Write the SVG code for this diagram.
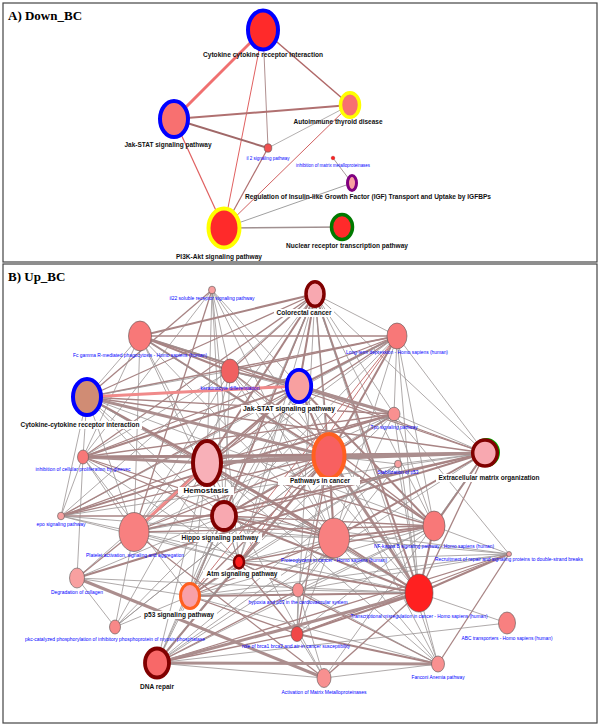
<svg xmlns="http://www.w3.org/2000/svg" width="600" height="726" viewBox="0 0 600 726">
<style>
.frame{fill:none;stroke:#444;stroke-width:1.2}
.title{font-family:"Liberation Serif",serif;font-weight:bold;font-size:13px;fill:#000}
.bd{font-family:"Liberation Sans",Arial,sans-serif;font-weight:bold;font-size:6.6px;fill:#111;text-anchor:middle}
.bl{font-family:"Liberation Sans",Arial,sans-serif;font-size:5.4px;fill:#0000ff;text-anchor:middle}
.pl{stroke:#555;stroke-width:0.6}
.lb{fill:#fff}
.g{stroke:#9a9494;stroke-width:0.8}
.m{stroke:#a88484;stroke-width:1.3}
.M{stroke:#a88484;stroke-width:2}
.T{stroke:#ab8e8e;stroke-width:3}
.P{stroke:#f08a8a;stroke-width:3}
.r{stroke:#c06868;stroke-width:0.9}
</style>
<rect width="600" height="726" fill="#fff"/>
<rect class="frame" x="3" y="3" width="594" height="259"/>
<rect class="frame" x="3" y="264" width="594" height="459"/>
<text class="title" x="8" y="20">A) Down_BC</text>
<text class="title" x="8" y="281">B) Up_BC</text>

<g id="connectors-A" fill="none">
<line x1="263" y1="30" x2="174" y2="119" stroke="#f07070" stroke-width="3"/>
<line x1="263" y1="30" x2="224" y2="228" stroke="#e06060" stroke-width="1"/>
<line x1="263" y1="30" x2="268" y2="148" stroke="#b09090" stroke-width="1"/>
<line x1="263" y1="30" x2="350" y2="105" stroke="#b06868" stroke-width="1.5"/>
<line x1="174" y1="119" x2="350" y2="105" stroke="#b07070" stroke-width="2"/>
<line x1="174" y1="119" x2="268" y2="148" stroke="#a06868" stroke-width="2"/>
<line x1="174" y1="119" x2="224" y2="228" stroke="#e06060" stroke-width="1.2"/>
<line x1="350" y1="105" x2="268" y2="148" stroke="#a09a9a" stroke-width="0.8"/>
<line x1="350" y1="105" x2="224" y2="228" stroke="#d06060" stroke-width="1"/>
<line x1="268" y1="148" x2="224" y2="228" stroke="#b07070" stroke-width="1.2"/>
<line x1="333" y1="158" x2="352" y2="183" stroke="#908080" stroke-width="0.8"/>
<line x1="352" y1="183" x2="224" y2="228" stroke="#a0a0a0" stroke-width="1"/>
<line x1="224" y1="228" x2="342" y2="227" stroke="#a09090" stroke-width="1.5"/>
</g>

<g id="A-cytokine"><ellipse cx="263" cy="30" rx="15" ry="19.5" fill="#ff2a2a" stroke="#0000ff" stroke-width="4"/><text class="bd" x="263" y="57" textLength="120" lengthAdjust="spacingAndGlyphs">Cytokine cytokine receptor interaction</text></g>
<g id="A-jakstat"><ellipse cx="174" cy="119" rx="14" ry="18" fill="#f87070" stroke="#0000ff" stroke-width="4"/><text class="bd" x="168" y="147" textLength="87" lengthAdjust="spacingAndGlyphs">Jak-STAT signaling pathway</text></g>
<g id="A-autoimmune"><ellipse cx="350" cy="105" rx="9.5" ry="12.3" fill="#f87070" stroke="#ffff00" stroke-width="3.5"/><text class="bd" x="338" y="124" textLength="89" lengthAdjust="spacingAndGlyphs">Autoimmune thyroid disease</text></g>
<g id="A-il2"><ellipse class="pl" cx="268" cy="148" rx="3.8" ry="4.2" fill="#f05050"/><text class="bl" x="268" y="160" textLength="43" lengthAdjust="spacingAndGlyphs">il 2 signaling pathway</text></g>
<g id="A-inhibition"><circle cx="333" cy="158" r="1.8" fill="#ff2020" stroke="#a00" stroke-width="0.4"/><text class="bl" x="333" y="167" textLength="74" lengthAdjust="spacingAndGlyphs">inhibition of matrix metalloproteinases</text></g>
<g id="A-regulation"><ellipse cx="352" cy="183" rx="4.5" ry="7.5" fill="#f8a0a0" stroke="#800080" stroke-width="3"/><text class="bd" x="368" y="199" textLength="246" lengthAdjust="spacingAndGlyphs">Regulation of Insulin-like Growth Factor (IGF) Transport and Uptake by IGFBPs</text></g>
<g id="A-pi3k"><ellipse cx="224" cy="228" rx="15.5" ry="19.5" fill="#ff2a2a" stroke="#ffff00" stroke-width="4"/><text class="bd" x="219" y="259" textLength="86" lengthAdjust="spacingAndGlyphs">PI3K-Akt signaling pathway</text></g>
<g id="A-nuclear"><ellipse cx="342" cy="227" rx="10.5" ry="12.5" fill="#ff2a2a" stroke="#007a00" stroke-width="3.5"/><text class="bd" x="347" y="248" textLength="122" lengthAdjust="spacingAndGlyphs">Nuclear receptor transcription pathway</text></g>

<g id="connectors-B" fill="none">
<!-- il22 212,290 -->
<line class="m" x1="212" y1="290" x2="87" y2="397"/>
<line class="g" x1="212" y1="290" x2="230" y2="371"/>
<line class="g" x1="212" y1="290" x2="207" y2="463"/>
<line class="g" x1="212" y1="290" x2="224" y2="516"/>
<line class="m" x1="212" y1="290" x2="134" y2="532"/>
<line class="g" x1="212" y1="290" x2="329" y2="456"/>
<line class="g" x1="212" y1="290" x2="334" y2="538"/>
<line class="g" x1="212" y1="290" x2="239" y2="562"/>
<line class="g" x1="212" y1="290" x2="299" y2="386"/>
<line class="g" x1="212" y1="290" x2="83" y2="457"/>
<!-- colo 315,294 -->
<line class="M" x1="315" y1="294" x2="140" y2="336"/>
<line class="g" x1="315" y1="294" x2="397" y2="336"/>
<line class="m" x1="315" y1="294" x2="230" y2="371"/>
<line class="M" x1="315" y1="294" x2="299" y2="386"/>
<line class="m" x1="315" y1="294" x2="87" y2="397"/>
<line class="M" x1="315" y1="294" x2="207" y2="463"/>
<line class="m" x1="315" y1="294" x2="329" y2="456"/>
<line class="g" x1="315" y1="294" x2="394" y2="414"/>
<line class="m" x1="315" y1="294" x2="224" y2="516"/>
<line class="g" x1="315" y1="294" x2="134" y2="532"/>
<line class="g" x1="315" y1="294" x2="334" y2="538"/>
<line class="M" x1="315" y1="294" x2="419" y2="593"/>
<line class="g" x1="315" y1="294" x2="434" y2="526"/>
<line class="g" x1="315" y1="294" x2="239" y2="562"/>
<line class="m" x1="315" y1="294" x2="190" y2="596"/>
<line class="g" x1="315" y1="294" x2="157" y2="663"/>
<line class="g" x1="315" y1="294" x2="297" y2="634"/>
<line class="g" x1="315" y1="294" x2="485" y2="453"/>
<line class="m" x1="315" y1="294" x2="83" y2="457"/>
<line class="g" x1="315" y1="294" x2="61" y2="516"/>
<line class="g" x1="315" y1="294" x2="438" y2="664"/>
<!-- fcg 140,336 -->
<line class="m" x1="140" y1="336" x2="397" y2="336"/>
<line class="M" x1="140" y1="336" x2="230" y2="371"/>
<line class="M" x1="140" y1="336" x2="299" y2="386"/>
<line class="M" x1="140" y1="336" x2="329" y2="456"/>
<line class="g" x1="140" y1="336" x2="207" y2="463"/>
<line class="g" x1="140" y1="336" x2="134" y2="532"/>
<line class="g" x1="140" y1="336" x2="87" y2="397"/>
<line class="g" x1="140" y1="336" x2="83" y2="457"/>
<line class="g" x1="140" y1="336" x2="394" y2="414"/>
<line class="g" x1="140" y1="336" x2="334" y2="538"/>
<line class="g" x1="140" y1="336" x2="434" y2="526"/>
<line class="g" x1="140" y1="336" x2="224" y2="516"/>
<line class="m" x1="140" y1="336" x2="485" y2="453"/>
<!-- ltd 397,336 -->
<line class="m" x1="397" y1="336" x2="230" y2="371"/>
<line class="M" x1="397" y1="336" x2="299" y2="386"/>
<line class="M" x1="397" y1="336" x2="329" y2="456"/>
<line class="m" x1="397" y1="336" x2="207" y2="463"/>
<line class="g" x1="397" y1="336" x2="224" y2="516"/>
<line class="g" x1="397" y1="336" x2="134" y2="532"/>
<line class="g" x1="397" y1="336" x2="334" y2="538"/>
<line class="m" x1="397" y1="336" x2="83" y2="457"/>
<line class="g" x1="397" y1="336" x2="394" y2="414"/>
<line class="g" x1="397" y1="336" x2="434" y2="526"/>
<line class="g" x1="397" y1="336" x2="419" y2="593"/>
<line class="g" x1="397" y1="336" x2="485" y2="453"/>
<line class="g" x1="397" y1="336" x2="61" y2="516"/>
<line class="m" x1="397" y1="336" x2="87" y2="397"/>
<line class="r" x1="397" y1="336" x2="239" y2="562"/>
<line class="r" x1="397" y1="336" x2="190" y2="596"/>
<!-- kera 230,371 -->
<line class="M" x1="230" y1="371" x2="299" y2="386"/>
<line class="g" x1="230" y1="371" x2="87" y2="397"/>
<line class="g" x1="230" y1="371" x2="207" y2="463"/>
<line class="g" x1="230" y1="371" x2="329" y2="456"/>
<line class="g" x1="230" y1="371" x2="134" y2="532"/>
<line class="g" x1="230" y1="371" x2="224" y2="516"/>
<line class="g" x1="230" y1="371" x2="83" y2="457"/>
<line class="g" x1="230" y1="371" x2="334" y2="538"/>
<line class="g" x1="230" y1="371" x2="394" y2="414"/>
<line class="m" x1="230" y1="371" x2="434" y2="526"/>
<line class="g" x1="230" y1="371" x2="419" y2="593"/>
<!-- jakB 299,386 -->
<line class="P" x1="299" y1="386" x2="87" y2="397"/>
<line class="T" x1="299" y1="386" x2="394" y2="414"/>
<line class="M" x1="299" y1="386" x2="329" y2="456"/>
<line class="M" x1="299" y1="386" x2="207" y2="463"/>
<line class="g" x1="299" y1="386" x2="224" y2="516"/>
<line class="m" x1="299" y1="386" x2="134" y2="532"/>
<line class="g" x1="299" y1="386" x2="334" y2="538"/>
<line class="M" x1="299" y1="386" x2="83" y2="457"/>
<line class="m" x1="299" y1="386" x2="61" y2="516"/>
<line class="m" x1="299" y1="386" x2="485" y2="453"/>
<line class="M" x1="299" y1="386" x2="434" y2="526"/>
<line class="g" x1="299" y1="386" x2="419" y2="593"/>
<line class="g" x1="299" y1="386" x2="239" y2="562"/>
<line class="g" x1="299" y1="386" x2="190" y2="596"/>
<!-- cytB 87,397 -->
<line class="M" x1="87" y1="397" x2="207" y2="463"/>
<line class="T" x1="87" y1="397" x2="329" y2="456"/>
<line class="m" x1="87" y1="397" x2="394" y2="414"/>
<line class="g" x1="87" y1="397" x2="83" y2="457"/>
<line class="g" x1="87" y1="397" x2="134" y2="532"/>
<line class="g" x1="87" y1="397" x2="224" y2="516"/>
<line class="m" x1="87" y1="397" x2="334" y2="538"/>
<line class="g" x1="87" y1="397" x2="434" y2="526"/>
<line class="g" x1="87" y1="397" x2="61" y2="516"/>
<line class="m" x1="87" y1="397" x2="485" y2="453"/>
<line class="g" x1="87" y1="397" x2="419" y2="593"/>
<line class="g" x1="87" y1="397" x2="239" y2="562"/>
<!-- tpo 394,414 -->
<line class="m" x1="394" y1="414" x2="83" y2="457"/>
<line class="M" x1="394" y1="414" x2="329" y2="456"/>
<line class="m" x1="394" y1="414" x2="207" y2="463"/>
<line class="M" x1="394" y1="414" x2="61" y2="516"/>
<line class="g" x1="394" y1="414" x2="134" y2="532"/>
<line class="g" x1="394" y1="414" x2="224" y2="516"/>
<line class="g" x1="394" y1="414" x2="334" y2="538"/>
<line class="g" x1="394" y1="414" x2="419" y2="593"/>
<line class="g" x1="394" y1="414" x2="239" y2="562"/>
<line class="g" x1="394" y1="414" x2="434" y2="526"/>
<line class="g" x1="394" y1="414" x2="485" y2="453"/>
<line class="g" x1="394" y1="414" x2="509" y2="554"/>
<!-- gleevec 83,457 -->
<line class="T" x1="83" y1="457" x2="207" y2="463"/>
<line class="T" x1="83" y1="457" x2="329" y2="456"/>
<line class="M" x1="83" y1="457" x2="485" y2="453"/>
<line class="m" x1="83" y1="457" x2="224" y2="516"/>
<line class="g" x1="83" y1="457" x2="134" y2="532"/>
<line class="g" x1="83" y1="457" x2="61" y2="516"/>
<line class="m" x1="83" y1="457" x2="334" y2="538"/>
<line class="g" x1="83" y1="457" x2="239" y2="562"/>
<line class="g" x1="83" y1="457" x2="77" y2="578"/>
<line class="g" x1="83" y1="457" x2="190" y2="596"/>
<!-- hemo 207,463 -->
<line class="P" x1="207" y1="463" x2="134" y2="532"/>
<line class="T" x1="207" y1="463" x2="329" y2="456"/>
<line class="T" x1="207" y1="463" x2="485" y2="453"/>
<line class="m" x1="207" y1="463" x2="224" y2="516"/>
<line class="M" x1="207" y1="463" x2="334" y2="538"/>
<line class="m" x1="207" y1="463" x2="434" y2="526"/>
<line class="m" x1="207" y1="463" x2="419" y2="593"/>
<line class="m" x1="207" y1="463" x2="61" y2="516"/>
<line class="g" x1="207" y1="463" x2="239" y2="562"/>
<line class="g" x1="207" y1="463" x2="77" y2="578"/>
<line class="g" x1="207" y1="463" x2="115" y2="627"/>
<line class="g" x1="207" y1="463" x2="324" y2="678"/>
<line class="g" x1="207" y1="463" x2="190" y2="596"/>
<line class="g" x1="207" y1="463" x2="157" y2="663"/>
<line class="g" x1="207" y1="463" x2="438" y2="664"/>
<!-- pic 329,456 -->
<line class="T" x1="329" y1="456" x2="485" y2="453"/>
<line class="M" x1="329" y1="456" x2="224" y2="516"/>
<line class="m" x1="329" y1="456" x2="134" y2="532"/>
<line class="M" x1="329" y1="456" x2="334" y2="538"/>
<line class="M" x1="329" y1="456" x2="434" y2="526"/>
<line class="T" x1="329" y1="456" x2="419" y2="593"/>
<line class="m" x1="329" y1="456" x2="239" y2="562"/>
<line class="m" x1="329" y1="456" x2="190" y2="596"/>
<line class="M" x1="329" y1="456" x2="157" y2="663"/>
<line class="m" x1="329" y1="456" x2="297" y2="634"/>
<line class="g" x1="329" y1="456" x2="298" y2="590"/>
<line class="g" x1="329" y1="456" x2="438" y2="664"/>
<line class="m" x1="329" y1="456" x2="61" y2="516"/>
<line class="g" x1="329" y1="456" x2="398" y2="464"/>
<line class="g" x1="329" y1="456" x2="115" y2="627"/>
<!-- ecm 485,453 -->
<line class="m" x1="485" y1="453" x2="224" y2="516"/>
<line class="M" x1="485" y1="453" x2="134" y2="532"/>
<line class="M" x1="485" y1="453" x2="334" y2="538"/>
<line class="M" x1="485" y1="453" x2="434" y2="526"/>
<line class="m" x1="485" y1="453" x2="419" y2="593"/>
<line class="M" x1="485" y1="453" x2="77" y2="578"/>
<line class="g" x1="485" y1="453" x2="324" y2="678"/>
<line class="g" x1="485" y1="453" x2="61" y2="516"/>
<line class="g" x1="485" y1="453" x2="398" y2="464"/>
<line class="g" x1="485" y1="453" x2="157" y2="663"/>
<!-- p53stab 398,464 -->
<line class="g" x1="398" y1="464" x2="190" y2="596"/>
<line class="g" x1="398" y1="464" x2="239" y2="562"/>
<line class="g" x1="398" y1="464" x2="419" y2="593"/>
<line class="g" x1="398" y1="464" x2="157" y2="663"/>
<line class="g" x1="398" y1="464" x2="298" y2="590"/>
<!-- epo 61,516 -->
<line class="g" x1="61" y1="516" x2="134" y2="532"/>
<line class="m" x1="61" y1="516" x2="224" y2="516"/>
<line class="g" x1="61" y1="516" x2="334" y2="538"/>
<line class="g" x1="61" y1="516" x2="239" y2="562"/>
<!-- hippo 224,516 -->
<line class="g" x1="224" y1="516" x2="134" y2="532"/>
<line class="M" x1="224" y1="516" x2="334" y2="538"/>
<line class="m" x1="224" y1="516" x2="434" y2="526"/>
<line class="M" x1="224" y1="516" x2="419" y2="593"/>
<line class="g" x1="224" y1="516" x2="239" y2="562"/>
<line class="g" x1="224" y1="516" x2="190" y2="596"/>
<line class="g" x1="224" y1="516" x2="157" y2="663"/>
<line class="g" x1="224" y1="516" x2="115" y2="627"/>
<line class="g" x1="224" y1="516" x2="77" y2="578"/>
<line class="g" x1="224" y1="516" x2="509" y2="554"/>
<!-- plate 134,532 -->
<line class="g" x1="134" y1="532" x2="334" y2="538"/>
<line class="m" x1="134" y1="532" x2="434" y2="526"/>
<line class="g" x1="134" y1="532" x2="115" y2="627"/>
<line class="m" x1="134" y1="532" x2="77" y2="578"/>
<line class="m" x1="134" y1="532" x2="324" y2="678"/>
<line class="g" x1="134" y1="532" x2="239" y2="562"/>
<line class="g" x1="134" y1="532" x2="419" y2="593"/>
<!-- proteo 334,538 -->
<line class="M" x1="334" y1="538" x2="434" y2="526"/>
<line class="M" x1="334" y1="538" x2="419" y2="593"/>
<line class="g" x1="334" y1="538" x2="239" y2="562"/>
<line class="m" x1="334" y1="538" x2="190" y2="596"/>
<line class="g" x1="334" y1="538" x2="298" y2="590"/>
<line class="g" x1="334" y1="538" x2="157" y2="663"/>
<line class="g" x1="334" y1="538" x2="297" y2="634"/>
<line class="g" x1="334" y1="538" x2="438" y2="664"/>
<line class="g" x1="334" y1="538" x2="509" y2="554"/>
<!-- nfkb 434,526 -->
<line class="M" x1="434" y1="526" x2="419" y2="593"/>
<line class="m" x1="434" y1="526" x2="239" y2="562"/>
<line class="g" x1="434" y1="526" x2="190" y2="596"/>
<line class="g" x1="434" y1="526" x2="157" y2="663"/>
<line class="g" x1="434" y1="526" x2="298" y2="590"/>
<line class="g" x1="434" y1="526" x2="509" y2="554"/>
<line class="g" x1="434" y1="526" x2="297" y2="634"/>
<!-- recruit 509,554 -->
<line class="M" x1="509" y1="554" x2="419" y2="593"/>
<line class="m" x1="509" y1="554" x2="157" y2="663"/>
<line class="m" x1="509" y1="554" x2="297" y2="634"/>
<line class="g" x1="509" y1="554" x2="239" y2="562"/>
<line class="m" x1="509" y1="554" x2="438" y2="664"/>
<line class="g" x1="509" y1="554" x2="190" y2="596"/>
<line class="g" x1="509" y1="554" x2="298" y2="590"/>
<!-- atm 239,562 -->
<line class="M" x1="239" y1="562" x2="190" y2="596"/>
<line class="M" x1="239" y1="562" x2="419" y2="593"/>
<line class="m" x1="239" y1="562" x2="297" y2="634"/>
<line class="g" x1="239" y1="562" x2="157" y2="663"/>
<line class="m" x1="239" y1="562" x2="438" y2="664"/>
<line class="g" x1="239" y1="562" x2="298" y2="590"/>
<!-- collagen 77,578 -->
<line class="T" x1="77" y1="578" x2="324" y2="678"/>
<line class="g" x1="77" y1="578" x2="115" y2="627"/>
<line class="g" x1="77" y1="578" x2="190" y2="596"/>
<line class="g" x1="77" y1="578" x2="419" y2="593"/>
<!-- p53 190,596 -->
<line class="M" x1="190" y1="596" x2="419" y2="593"/>
<line class="m" x1="190" y1="596" x2="297" y2="634"/>
<line class="g" x1="190" y1="596" x2="157" y2="663"/>
<line class="g" x1="190" y1="596" x2="298" y2="590"/>
<line class="g" x1="190" y1="596" x2="438" y2="664"/>
<!-- hypoxia 298,590 -->
<line class="g" x1="298" y1="590" x2="419" y2="593"/>
<line class="g" x1="298" y1="590" x2="297" y2="634"/>
<line class="g" x1="298" y1="590" x2="324" y2="678"/>
<line class="g" x1="298" y1="590" x2="438" y2="664"/>
<line class="m" x1="298" y1="590" x2="157" y2="663"/>
<!-- trans 419,593 -->
<line class="T" x1="419" y1="593" x2="157" y2="663"/>
<line class="M" x1="419" y1="593" x2="297" y2="634"/>
<line class="g" x1="419" y1="593" x2="438" y2="664"/>
<line class="g" x1="419" y1="593" x2="507" y2="623"/>
<line class="m" x1="419" y1="593" x2="324" y2="678"/>
<line class="g" x1="507" y1="623" x2="157" y2="663"/>
<line class="g" x1="115" y1="627" x2="329" y2="456"/>
<line class="g" x1="115" y1="627" x2="190" y2="596"/>
<line class="m" x1="297" y1="634" x2="157" y2="663"/>
<line class="M" x1="297" y1="634" x2="438" y2="664"/>
<line class="g" x1="297" y1="634" x2="324" y2="678"/>
<line class="T" x1="157" y1="663" x2="438" y2="664"/>
<line class="g" x1="157" y1="663" x2="324" y2="678"/>
<line class="g" x1="438" y1="664" x2="324" y2="678"/>
</g>

<g id="B-il22"><ellipse class="pl" cx="212" cy="290" rx="3.5" ry="3.8" fill="#f8a0a0"/><text class="bl" x="212" y="300" textLength="85" lengthAdjust="spacingAndGlyphs">il22 soluble receptor signaling pathway</text></g>
<g id="B-colorectal"><ellipse cx="315" cy="294" rx="9" ry="12.3" fill="#f8a8b0" stroke="#800000" stroke-width="3.5"/><rect class="lb" x="274" y="309" width="60" height="8"/><text class="bd" x="304" y="315" textLength="55" lengthAdjust="spacingAndGlyphs">Colorectal cancer</text></g>
<g id="B-fcgamma"><ellipse class="pl" cx="140" cy="336" rx="11.5" ry="15" fill="#f87878"/><text class="bl" x="140" y="357" textLength="134" lengthAdjust="spacingAndGlyphs">Fc gamma R-mediated phagocytosis - Homo sapiens (human)</text></g>
<g id="B-ltd"><ellipse class="pl" cx="397" cy="336" rx="10" ry="13" fill="#f87878"/><text class="bl" x="397" y="354" textLength="102" lengthAdjust="spacingAndGlyphs">Long-term depression - Homo sapiens (human)</text></g>
<g id="B-kera"><ellipse class="pl" cx="230" cy="371" rx="9" ry="12" fill="#f06060"/><text class="bl" x="230" y="390" textLength="59" lengthAdjust="spacingAndGlyphs">keratinocyte differentiation</text></g>
<g id="B-jakstat"><ellipse cx="299" cy="386" rx="12.2" ry="16.2" fill="#f8a0a0" stroke="#0000ff" stroke-width="3.8"/><rect class="lb" x="241" y="405" width="96" height="8"/><text class="bd" x="289" y="411" textLength="92" lengthAdjust="spacingAndGlyphs">Jak-STAT signaling pathway</text></g>
<g id="B-cytokine"><ellipse cx="87" cy="397" rx="14" ry="18" fill="#d08c74" stroke="#0000ff" stroke-width="4"/><rect class="lb" x="18" y="421" width="124" height="8"/><text class="bd" x="80" y="427" textLength="119" lengthAdjust="spacingAndGlyphs">Cytokine-cytokine receptor interaction</text></g>
<g id="B-tpo"><ellipse class="pl" cx="394" cy="414" rx="6" ry="6.8" fill="#f89090"/><text class="bl" x="394" y="429" textLength="47" lengthAdjust="spacingAndGlyphs">Tpo signaling pathway</text></g>
<g id="B-gleevec"><ellipse class="pl" cx="83" cy="457" rx="5.5" ry="7" fill="#f87878"/><text class="bl" x="83" y="471" textLength="95" lengthAdjust="spacingAndGlyphs">inhibition of cellular proliferation by gleevec</text></g>
<g id="B-hemostasis"><ellipse cx="207" cy="463" rx="14" ry="22" fill="#f8b0b8" stroke="#800000" stroke-width="4"/><rect class="lb" x="178" y="487" width="56" height="8"/><text class="bd" x="206" y="493" textLength="45" lengthAdjust="spacingAndGlyphs">Hemostasis</text></g>
<g id="B-pic"><ellipse cx="329" cy="456" rx="15.5" ry="22" fill="#f86060" stroke="#ff6020" stroke-width="4"/><rect class="lb" x="278" y="477" width="82" height="8"/><text class="bd" x="320" y="483" textLength="60" lengthAdjust="spacingAndGlyphs">Pathways in cancer</text></g>
<g id="B-p53stab"><ellipse class="pl" cx="398" cy="464" rx="3.5" ry="3.8" fill="#f8a0a0"/><text class="bl" x="398" y="474" textLength="41" lengthAdjust="spacingAndGlyphs">Stabilization of p53</text></g>
<g id="B-ecm"><ellipse cx="486.5" cy="452.5" rx="12.5" ry="13.5" fill="none" stroke="#00b000" stroke-width="2"/><ellipse cx="485" cy="453" rx="12.3" ry="13" fill="#f8a8b0" stroke="#800000" stroke-width="3.5"/><rect class="lb" x="436" y="474" width="106" height="8"/><text class="bd" x="489" y="480" textLength="101" lengthAdjust="spacingAndGlyphs">Extracellular matrix organization</text></g>
<g id="B-epo"><ellipse class="pl" cx="61" cy="516" rx="3.5" ry="3.8" fill="#f8a0a0"/><text class="bl" x="61" y="526" textLength="49" lengthAdjust="spacingAndGlyphs">epo signaling pathway</text></g>
<g id="B-hippo"><ellipse cx="224" cy="516" rx="12" ry="14" fill="#f8a8b0" stroke="#800000" stroke-width="3.8"/><rect class="lb" x="180" y="534" width="82" height="8"/><text class="bd" x="220" y="540" textLength="77" lengthAdjust="spacingAndGlyphs">Hippo signaling pathway</text></g>
<g id="B-platelet"><ellipse class="pl" cx="134" cy="532" rx="15" ry="19.5" fill="#f88080"/><text class="bl" x="135" y="557" textLength="98" lengthAdjust="spacingAndGlyphs">Platelet activation, signaling and aggregation</text></g>
<g id="B-proteo"><ellipse class="pl" cx="334" cy="538" rx="15.5" ry="20" fill="#f88080"/><text class="bl" x="334" y="562" textLength="106" lengthAdjust="spacingAndGlyphs">Proteoglycans in cancer - Homo sapiens (human)</text></g>
<g id="B-nfkb"><ellipse class="pl" cx="434" cy="526" rx="11" ry="15" fill="#f87878"/><text class="bl" x="434" y="548" textLength="120" lengthAdjust="spacingAndGlyphs">NF-kappa B signaling pathway - Homo sapiens (human)</text></g>
<g id="B-recruit"><ellipse class="pl" cx="509" cy="554" rx="2.5" ry="2.5" fill="#f8a0a0"/><text class="bl" x="509" y="561" textLength="148" lengthAdjust="spacingAndGlyphs">Recruitment of repair and signaling proteins to double-strand breaks</text></g>
<g id="B-atm"><ellipse cx="239" cy="562" rx="5" ry="6.5" fill="#ff2020" stroke="#800000" stroke-width="2.5"/><rect class="lb" x="203" y="570" width="78" height="8"/><text class="bd" x="242" y="576" textLength="71" lengthAdjust="spacingAndGlyphs">Atm signaling pathway</text></g>
<g id="B-collagen"><ellipse class="pl" cx="77" cy="578" rx="7.5" ry="10" fill="#f8a0a0"/><text class="bl" x="77" y="594" textLength="52" lengthAdjust="spacingAndGlyphs">Degradation of collagen</text></g>
<g id="B-p53"><ellipse cx="190" cy="596" rx="9.5" ry="12.5" fill="#f8a0a8" stroke="#ff6020" stroke-width="3"/><rect class="lb" x="141" y="611" width="76" height="8"/><text class="bd" x="179" y="617" textLength="70" lengthAdjust="spacingAndGlyphs">p53 signaling pathway</text></g>
<g id="B-hypoxia"><ellipse class="pl" cx="298" cy="590" rx="5.5" ry="7" fill="#f89090"/><text class="bl" x="298" y="604" textLength="99" lengthAdjust="spacingAndGlyphs">hypoxia and p53 in the cardiovascular system</text></g>
<g id="B-trans"><ellipse class="pl" cx="419" cy="593" rx="14" ry="19" fill="#ff2020"/><text class="bl" x="419" y="618" textLength="137" lengthAdjust="spacingAndGlyphs">Transcriptional misregulation in cancer - Homo sapiens (human)</text></g>
<g id="B-abc"><ellipse class="pl" cx="507" cy="623" rx="8.5" ry="11" fill="#f88080"/><text class="bl" x="507" y="640" textLength="91" lengthAdjust="spacingAndGlyphs">ABC transporters - Homo sapiens (human)</text></g>
<g id="B-pkc"><ellipse class="pl" cx="115" cy="627" rx="5.5" ry="7" fill="#f88888"/><text class="bl" x="115" y="641" textLength="180" lengthAdjust="spacingAndGlyphs">pkc-catalyzed phosphorylation of inhibitory phosphoprotein of myosin phosphatase</text></g>
<g id="B-brca"><ellipse class="pl" cx="297" cy="634" rx="6" ry="7.5" fill="#f04848"/><text class="bl" x="296" y="648" textLength="108" lengthAdjust="spacingAndGlyphs">role of brca1 brca2 and atr in cancer susceptibility</text></g>
<g id="B-dnarepair"><ellipse cx="157" cy="663" rx="12" ry="14.5" fill="#f86868" stroke="#800000" stroke-width="3.8"/><rect class="lb" x="136" y="683" width="42" height="8"/><text class="bd" x="157" y="689" textLength="34" lengthAdjust="spacingAndGlyphs">DNA repair</text></g>
<g id="B-fanconi"><ellipse class="pl" cx="438" cy="664" rx="6.5" ry="8" fill="#f89090"/><text class="bl" x="438" y="679" textLength="53" lengthAdjust="spacingAndGlyphs">Fanconi Anemia pathway</text></g>
<g id="B-mmp"><ellipse class="pl" cx="324" cy="678" rx="7" ry="9.5" fill="#f89090"/><text class="bl" x="324" y="694" textLength="85" lengthAdjust="spacingAndGlyphs">Activation of Matrix Metalloproteinases</text></g>
</svg>
